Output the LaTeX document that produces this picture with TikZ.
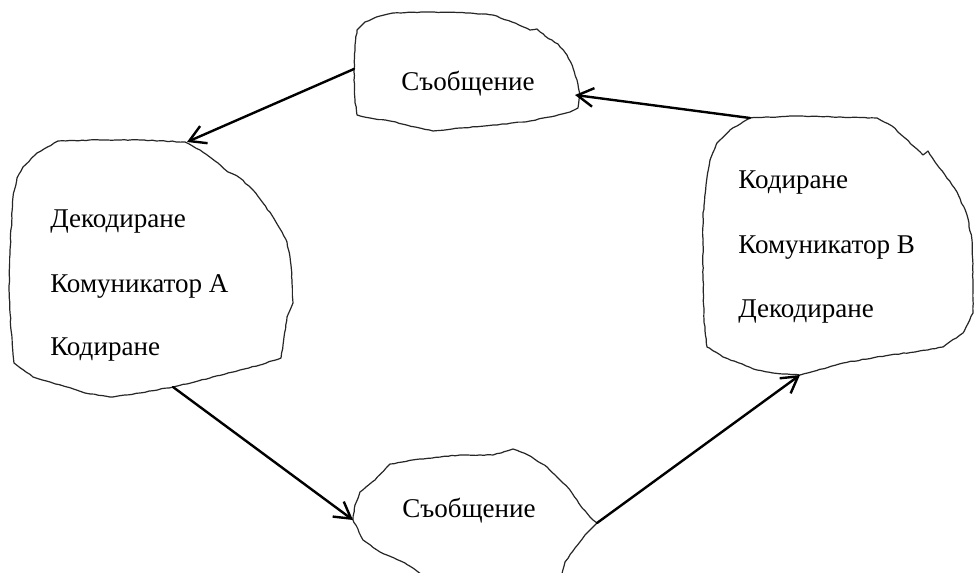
\documentclass[tikz,border=0pt]{standalone}
\usepackage{fontspec}
\setmainfont{Liberation Serif}
\usetikzlibrary{arrows.meta,decorations.pathmorphing}
\begin{document}
\begin{tikzpicture}[x=0.75pt,y=-0.75pt,
  blob/.style={draw=black!85, line width=0.9pt, line join=round,
    decorate, decoration={random steps, segment length=3pt, amplitude=0.3pt}},
  conn/.style={draw=black, line width=1.8pt, line cap=round,
    -{Straight Barb[length=12pt,width=14pt,line width=1.8pt]}},
  lbl/.style={inner sep=0pt, font=\fontsize{20.3pt}{23pt}\selectfont}]
\pgfmathsetseed{7}
\useasboundingbox (0,0) rectangle (974,573);
\fill[white] (0,0) rectangle (974,573);
% top blob
\draw[blob] (393,13) -- (430,12) -- (470,13) -- (493,15) -- (512,22) -- (530,30) -- (537,29) -- (545,36) -- (558,44) -- (567,55) -- (573,68) -- (577,80) -- (580,95) -- (578,108) -- (570,112) -- (555,116) -- (530,121) -- (497,125) -- (460,128) -- (433,131) -- (415,127) -- (390,121) -- (370,118) -- (357,115) -- (355,100) -- (354,70) -- (355,45) -- (357,30) -- (365,22) -- (380,16) -- cycle;
% left blob
\draw[blob] (58,141) -- (100,140) -- (140,140) -- (185,142) -- (200,150) -- (218,163) -- (228,172) -- (233,174) -- (240,178) -- (253,190) -- (263,203) -- (273,217) -- (282,232) -- (287,242) -- (290,257) -- (292,280) -- (293,303) -- (287,317) -- (284,337) -- (281,358) -- (260,365) -- (240,370) -- (210,378) -- (173,387) -- (140,393) -- (110,397) -- (85,393) -- (67,387) -- (50,382) -- (33,377) -- (14,363) -- (11,330) -- (9,290) -- (10,250) -- (13,197) -- (17,178) -- (23,167) -- (37,153) -- cycle;
% right blob
\draw[blob] (750,118) -- (800,116) -- (877,118) -- (892,126) -- (905,138) -- (923,155) -- (928,151) -- (935,162) -- (945,175) -- (957,192) -- (967,215) -- (972,240) -- (973,280) -- (973,313) -- (963,333) -- (943,347) -- (915,352) -- (890,355) -- (843,363) -- (800,375) -- (773,373) -- (757,370) -- (723,357) -- (707,347) -- (704,320) -- (703,280) -- (703,217) -- (706,185) -- (710,160) -- (717,143) -- (730,130) -- cycle;
% bottom blob
\draw[blob] (353,520) -- (355,505) -- (360,492) -- (375,480) -- (390,464) -- (420,459) -- (460,455) -- (493,455) -- (513,449) -- (528,455) -- (547,467) -- (560,480) -- (570,490) -- (580,505) -- (593,520) -- (597,523) -- (585,535) -- (575,548) -- (565,562) -- (560,580) -- (430,580) -- (405,563) -- (380,552) -- (363,540) -- cycle;
% texts
\node[lbl, anchor=base] (tmsg) at (468,91) {Съобщение};
\node[lbl, anchor=base] (bmsg) at (469,517) {Съобщение};
\node[lbl, anchor=base west] (la1) at (50,228) {Декодиране};
\node[lbl, anchor=base west] (la2) at (50,293) {Комуникатор А};
\node[lbl, anchor=base west] (la3) at (50,356) {Кодиране};
\node[lbl, anchor=base west] (rb1) at (738,189) {Кодиране};
\node[lbl, anchor=base west] (rb2) at (738,254) {Комуникатор В};
\node[lbl, anchor=base west] (rb3) at (738,318) {Декодиране};
% connector ends
\coordinate (tW) at (354,69);
\coordinate (tE) at (575,95);
\coordinate (lN) at (187,142);
\coordinate (lS) at (173,387);
\coordinate (rNW) at (750,118);
\coordinate (rS) at (800,375);
\coordinate (bW) at (353,520);
\coordinate (bE) at (597,523);
\draw[conn] (tW) -- (lN);
\draw[conn] (rNW) -- (tE);
\draw[conn] (lS) -- (bW);
\draw[conn] (bE) -- (rS);
\end{tikzpicture}
\end{document}
